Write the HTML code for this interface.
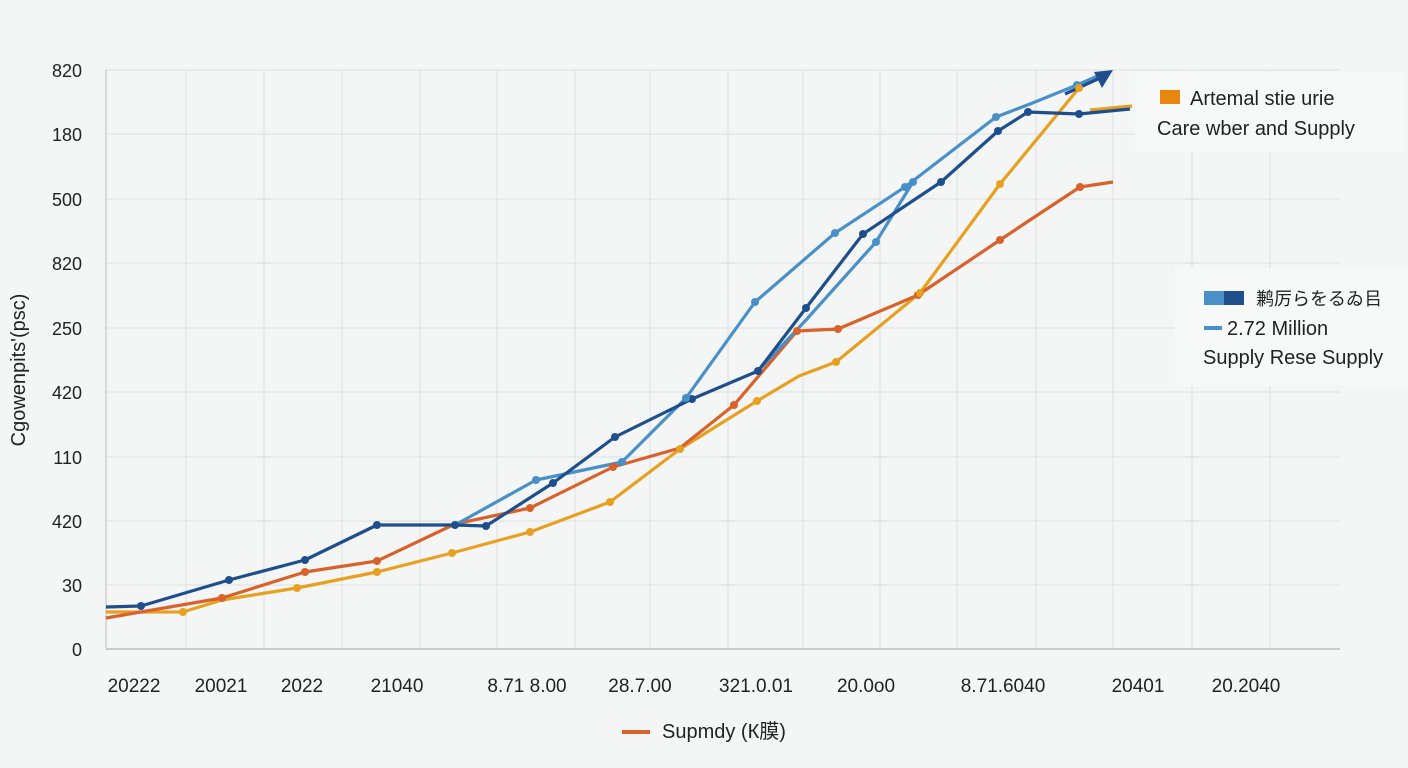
<!DOCTYPE html><html><head><meta charset="utf-8"><style>body{margin:0;background:#f4f5f5;}svg{display:block;font-family:"Liberation Sans","Noto Sans CJK JP",sans-serif;}</style></head><body>
<svg width="1408" height="768" viewBox="0 0 1408 768">
<rect width="1408" height="768" fill="#f4f5f5"/>
<g stroke="#dcdfe1" stroke-width="1">
<line x1="106" y1="70" x2="1340" y2="70"/><line x1="106" y1="134" x2="1340" y2="134"/><line x1="106" y1="199" x2="1340" y2="199"/><line x1="106" y1="263" x2="1340" y2="263"/><line x1="106" y1="328" x2="1340" y2="328"/><line x1="106" y1="392" x2="1340" y2="392"/><line x1="106" y1="457" x2="1340" y2="457"/><line x1="106" y1="521" x2="1340" y2="521"/><line x1="106" y1="585" x2="1340" y2="585"/>
<line x1="186" y1="70" x2="186" y2="649"/><line x1="264" y1="70" x2="264" y2="649"/><line x1="342" y1="70" x2="342" y2="649"/><line x1="420" y1="70" x2="420" y2="649"/><line x1="497" y1="70" x2="497" y2="649"/><line x1="575" y1="70" x2="575" y2="649"/><line x1="650" y1="70" x2="650" y2="649"/><line x1="728" y1="70" x2="728" y2="649"/><line x1="803" y1="70" x2="803" y2="649"/><line x1="880" y1="70" x2="880" y2="649"/><line x1="957" y1="70" x2="957" y2="649"/><line x1="1036" y1="70" x2="1036" y2="649"/><line x1="1113" y1="70" x2="1113" y2="649"/><line x1="1192" y1="70" x2="1192" y2="649"/><line x1="1270" y1="70" x2="1270" y2="649"/>
</g>
<line x1="106" y1="649" x2="1340" y2="649" stroke="#bbb" stroke-width="1.5"/>
<line x1="106" y1="70" x2="106" y2="649" stroke="#c8c8c8" stroke-width="1.2"/>
<rect x="1135" y="72" width="270" height="80" fill="#f7f8f8"/>
<rect x="1175" y="268" width="233" height="118" fill="#f7f8f8"/>
<g font-size="18" fill="#222" text-anchor="end">
<text x="82" y="77">820</text><text x="82" y="141">180</text><text x="82" y="206">500</text><text x="82" y="270">820</text><text x="82" y="335">250</text><text x="82" y="399">420</text><text x="82" y="464">110</text><text x="82" y="528">420</text><text x="82" y="592">30</text><text x="82" y="656">0</text>
</g>
<text transform="translate(25,370) rotate(-90)" font-size="20" fill="#222" text-anchor="middle">Cgowenpits'(psc)</text>
<g font-size="19" fill="#222" text-anchor="middle">
<text x="134" y="692">20222</text><text x="221" y="692">20021</text><text x="302" y="692">2022</text><text x="397" y="692">21040</text><text x="527" y="692">8.71 8.00</text><text x="640" y="692">28.7.00</text><text x="756" y="692">321.0.01</text><text x="866" y="692">20.0o0</text><text x="1003" y="692">8.71.6040</text><text x="1138" y="692">20401</text><text x="1246" y="692">20.2040</text>
</g>
<g fill="none" stroke-width="3.2" stroke-linejoin="round">
<polyline stroke="#e8a020" points="106,612 183,612 222,600 297,588 377,572 452,553 530,532 610,502 680,449 757,401 799,376 836,362 920,293 1000,184 1079,88 1110,72"/>
<polyline stroke="#e8a020" points="1090,110 1132,106"/>
<polyline stroke="#d9622b" points="106,618 222,598 305,572 377,561 455,524 530,508 613,467 680,448 734,405 797,331 838,329 918,295 1000,240 1030,220 1080,187 1113,182"/>
<polyline stroke="#4a90c8" points="455,525 536,480 622,462 686,398 755,302 835,233 905,187 996,117 1030,104 1077,85 1100,75"/>
<polyline stroke="#4a90c8" points="758,371 806,320 876,242 913,182"/>
<polyline stroke="#1f4e8c" points="106,607 141,606 229,580 305,560 377,525 455,525 486,526 553,483 615,437 692,399 758,371 806,308 863,234 941,182 998,131 1028,112 1079,114 1130,109"/>
<line x1="1065" y1="94" x2="1100" y2="78" stroke="#1f4e8c"/>
</g>
<polygon points="1113,70 1094,72 1102,88" fill="#1f4e8c"/>
<g fill="#1f4e8c"><circle cx="141" cy="606" r="4"/><circle cx="229" cy="580" r="4"/><circle cx="305" cy="560" r="4"/><circle cx="377" cy="525" r="4"/><circle cx="455" cy="525" r="4"/><circle cx="486" cy="526" r="4"/><circle cx="553" cy="483" r="4"/><circle cx="615" cy="437" r="4"/><circle cx="692" cy="399" r="4"/><circle cx="758" cy="371" r="4"/><circle cx="806" cy="308" r="4"/><circle cx="863" cy="234" r="4"/><circle cx="941" cy="182" r="4"/><circle cx="998" cy="131" r="4"/><circle cx="1028" cy="112" r="4"/><circle cx="1079" cy="114" r="4"/></g>
<g fill="#4a90c8"><circle cx="536" cy="480" r="4"/><circle cx="622" cy="462" r="4"/><circle cx="686" cy="398" r="4"/><circle cx="755" cy="302" r="4"/><circle cx="835" cy="233" r="4"/><circle cx="905" cy="187" r="4"/><circle cx="996" cy="117" r="4"/><circle cx="876" cy="242" r="4"/><circle cx="913" cy="182" r="4"/><circle cx="1077" cy="85" r="4"/></g>
<g fill="#d9622b"><circle cx="222" cy="598" r="4"/><circle cx="305" cy="572" r="4"/><circle cx="377" cy="561" r="4"/><circle cx="530" cy="508" r="4"/><circle cx="613" cy="467" r="4"/><circle cx="734" cy="405" r="4"/><circle cx="797" cy="331" r="4"/><circle cx="838" cy="329" r="4"/><circle cx="918" cy="295" r="4"/><circle cx="1000" cy="240" r="4"/><circle cx="1080" cy="187" r="4"/></g>
<g fill="#e8a020"><circle cx="183" cy="612" r="4"/><circle cx="297" cy="588" r="4"/><circle cx="377" cy="572" r="4"/><circle cx="452" cy="553" r="4"/><circle cx="530" cy="532" r="4"/><circle cx="610" cy="502" r="4"/><circle cx="680" cy="449" r="4"/><circle cx="757" cy="401" r="4"/><circle cx="836" cy="362" r="4"/><circle cx="920" cy="293" r="4"/><circle cx="1000" cy="184" r="4"/><circle cx="1079" cy="88" r="4"/></g>
<rect x="1160" y="90" width="20" height="14" fill="#e8870f"/>
<text x="1190" y="105" font-size="20" fill="#222">Artemal stie urie</text>
<text x="1157" y="135" font-size="20" fill="#222">Care wber and Supply</text>
<rect x="1204" y="291" width="20" height="14" fill="#4a90c8"/><rect x="1224" y="291" width="20" height="14" fill="#1f4e8c"/>
<text x="1256" y="305" font-size="18" fill="#222">鹣厉らをるゐ㠯</text>
<line x1="1204" y1="328" x2="1222" y2="328" stroke="#4a90c8" stroke-width="4"/>
<text x="1227" y="335" font-size="20" fill="#222">2.72 Million</text>
<text x="1203" y="364" font-size="20" fill="#222">Supply Rese Supply</text>
<line x1="622" y1="732" x2="650" y2="732" stroke="#d9622b" stroke-width="4"/>
<text x="662" y="738" font-size="20" fill="#222">Supmdy (К膜)</text>
</svg></body></html>
